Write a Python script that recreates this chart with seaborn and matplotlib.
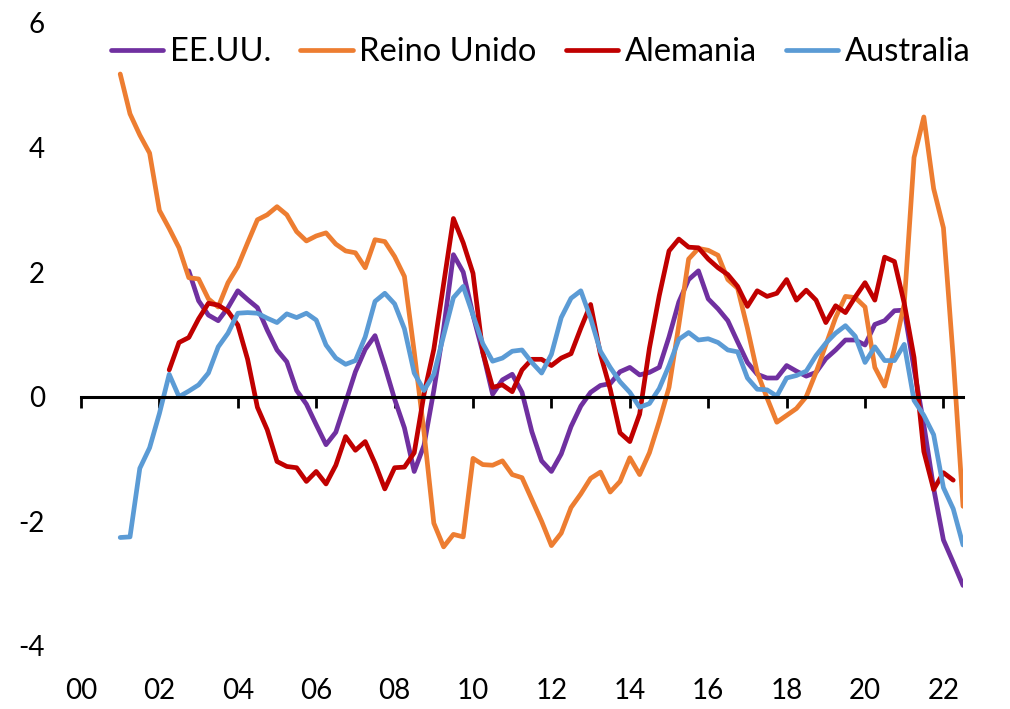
import numpy as np
import pandas as pd
import matplotlib
matplotlib.use("Agg")
import matplotlib.pyplot as plt
import seaborn as sns

# Series shown, their colours and first quarter of data
series_names = ["EE.UU.", "Reino Unido", "Alemania", "Australia"]
series_colors = ["#7030A0", "#ED7D31", "#C00000", "#5B9BD5"]
series_start = ["2002Q4", "2001Q1", "2002Q2", "2001Q1"]

# Quarterly values (one row per year)
eeuu = [
    2.02,
    1.54, 1.31, 1.22, 1.43,
    1.70, 1.56, 1.43, 1.07,
    0.75, 0.56, 0.10, -0.12,
    -0.45, -0.77, -0.57, -0.09,
    0.40, 0.76, 0.98, 0.49,
    -0.04, -0.50, -1.20, -0.78,
    0.10, 1.09, 2.28, 2.00,
    1.31, 0.71, 0.04, 0.27,
    0.36, 0.07, -0.56, -1.03,
    -1.20, -0.92, -0.48, -0.15,
    0.07, 0.18, 0.21, 0.40,
    0.47, 0.35, 0.39, 0.47,
    0.96, 1.52, 1.88, 2.02,
    1.57, 1.41, 1.22, 0.88,
    0.55, 0.36, 0.30, 0.30,
    0.50, 0.41, 0.33, 0.39,
    0.61, 0.75, 0.91, 0.91,
    0.83, 1.16, 1.22, 1.38,
    1.39, 0.45, -0.45, -1.47,
    -2.30, -2.66, -3.03,
]

reino_unido = [
    5.18, 4.54, 4.20, 3.91,
    2.99, 2.70, 2.39, 1.91,
    1.89, 1.57, 1.44, 1.83,
    2.09, 2.47, 2.84, 2.92,
    3.05, 2.92, 2.65, 2.50,
    2.58, 2.63, 2.45, 2.34,
    2.31, 2.07, 2.52, 2.49,
    2.25, 1.93, 0.72, -0.57,
    -2.03, -2.41, -2.21, -2.25,
    -0.99, -1.09, -1.10, -1.03,
    -1.25, -1.30, -1.65, -2.00,
    -2.39, -2.19, -1.78, -1.56,
    -1.31, -1.21, -1.53, -1.36,
    -0.98, -1.25, -0.90, -0.40,
    0.15, 1.15, 2.21, 2.38,
    2.35, 2.27, 1.88, 1.74,
    1.10, 0.39, -0.02, -0.41,
    -0.30, -0.19, 0.00, 0.39,
    0.83, 1.27, 1.61, 1.59,
    1.44, 0.47, 0.17, 0.77,
    1.49, 3.84, 4.49, 3.34,
    2.71, 0.62, -1.76,
]

alemania = [
    0.43, 0.87, 0.95,
    1.25, 1.50, 1.47, 1.37,
    1.15, 0.60, -0.17, -0.53,
    -1.04, -1.12, -1.14, -1.36,
    -1.20, -1.40, -1.10, -0.64,
    -0.86, -0.72, -1.07, -1.48,
    -1.14, -1.13, -0.90, 0.04,
    0.76, 1.81, 2.86, 2.47,
    1.98, 0.71, 0.15, 0.19,
    0.08, 0.43, 0.60, 0.60,
    0.50, 0.62, 0.69, 1.10,
    1.48, 0.68, 0.12, -0.58,
    -0.72, -0.28, 0.78, 1.62,
    2.34, 2.53, 2.40, 2.39,
    2.21, 2.07, 1.96, 1.77,
    1.45, 1.70, 1.61, 1.66,
    1.88, 1.55, 1.71, 1.55,
    1.19, 1.46, 1.35, 1.60,
    1.83, 1.55, 2.24, 2.17,
    1.50, 0.63, -0.88, -1.49,
    -1.22, -1.34,
]

australia = [
    -2.26, -2.25, -1.15, -0.82,
    -0.27, 0.36, 0.00, 0.09,
    0.19, 0.38, 0.80, 1.02,
    1.34, 1.35, 1.34, 1.26,
    1.19, 1.33, 1.27, 1.34,
    1.23, 0.83, 0.62, 0.52,
    0.58, 0.96, 1.53, 1.66,
    1.49, 1.09, 0.38, 0.10,
    0.36, 0.98, 1.59, 1.77,
    1.31, 0.85, 0.57, 0.62,
    0.73, 0.75, 0.55, 0.38,
    0.68, 1.27, 1.58, 1.70,
    1.26, 0.73, 0.47, 0.24,
    0.07, -0.17, -0.11, 0.13,
    0.50, 0.92, 1.03, 0.91,
    0.93, 0.87, 0.75, 0.72,
    0.30, 0.12, 0.11, 0.01,
    0.30, 0.34, 0.41, 0.66,
    0.86, 1.02, 1.14, 0.97,
    0.55, 0.80, 0.58, 0.58,
    0.84, -0.06, -0.30, -0.61,
    -1.46, -1.80, -2.38,
]

x_ticks = [2000, 2002, 2004, 2006, 2008, 2010, 2012, 2014, 2016, 2018, 2020, 2022]
x_tick_labels = ["00", "02", "04", "06", "08", "10", "12", "14", "16", "18", "20", "22"]
y_ticks = [-4, -2, 0, 2, 4, 6]
y_tick_labels = ["-4", "-2", "0", "2", "4", "6"]

# Long-form table: one row per quarter and series
frames = []
for name, start, vals in zip(series_names, series_start,
                             [eeuu, reino_unido, alemania, australia]):
    periods = pd.period_range(start=start, periods=len(vals), freq="Q")
    t = periods.year + (periods.quarter - 1) / 4.0
    frames.append(pd.DataFrame({"t": t, "valor": vals, "serie": name}))
df = pd.concat(frames, ignore_index=True)

sns.set_theme(style="white")
plt.rcParams["font.family"] = ["Lato", "DejaVu Sans"]
plt.rcParams["text.color"] = "black"

fig = plt.figure(figsize=(10.10, 7.09), dpi=100)
ax = fig.add_axes([0.0802, 0.0890, 0.8733, 0.8787])

sns.lineplot(data=df, x="t", y="valor", hue="serie", hue_order=series_names,
             palette=series_colors, linewidth=3.4, errorbar=None, ax=ax,
             legend=True)

ax.set_xlim(2000, 2022.5)
ax.set_ylim(-4, 6)
ax.set_xlabel("")
ax.set_ylabel("")

# Horizontal axis drawn through zero, labels kept at the bottom
for side in ["left", "top", "right"]:
    ax.spines[side].set_visible(False)
ax.spines["bottom"].set_position(("data", 0))
ax.spines["bottom"].set_color("black")
ax.spines["bottom"].set_linewidth(2.2)
ax.set_xticks(x_ticks)
ax.tick_params(axis="x", direction="out", length=8, width=2, color="black",
               labelbottom=False, bottom=True)

sec = ax.secondary_xaxis(0.0)
sec.set_xticks(x_ticks, x_tick_labels)
sec.tick_params(axis="x", length=0, pad=23, labelsize=20, labelcolor="black")
sec.spines["bottom"].set_visible(False)

ax.set_yticks(y_ticks, y_tick_labels)
ax.tick_params(axis="y", length=0, pad=26, labelsize=20, labelcolor="black")
ax.grid(False)

handles, labels = ax.get_legend_handles_labels()
ax.legend_.remove()
leg = fig.legend(handles, labels, loc="center left", bbox_to_anchor=(0.110, 0.926),
                 ncol=4, frameon=False, fontsize=23.5, handlelength=1.6,
                 handletextpad=0.2, columnspacing=0.9, borderpad=0, borderaxespad=0)
for txt in leg.get_texts():
    txt.set_color("black")

fig.savefig("out.png", dpi=100)
